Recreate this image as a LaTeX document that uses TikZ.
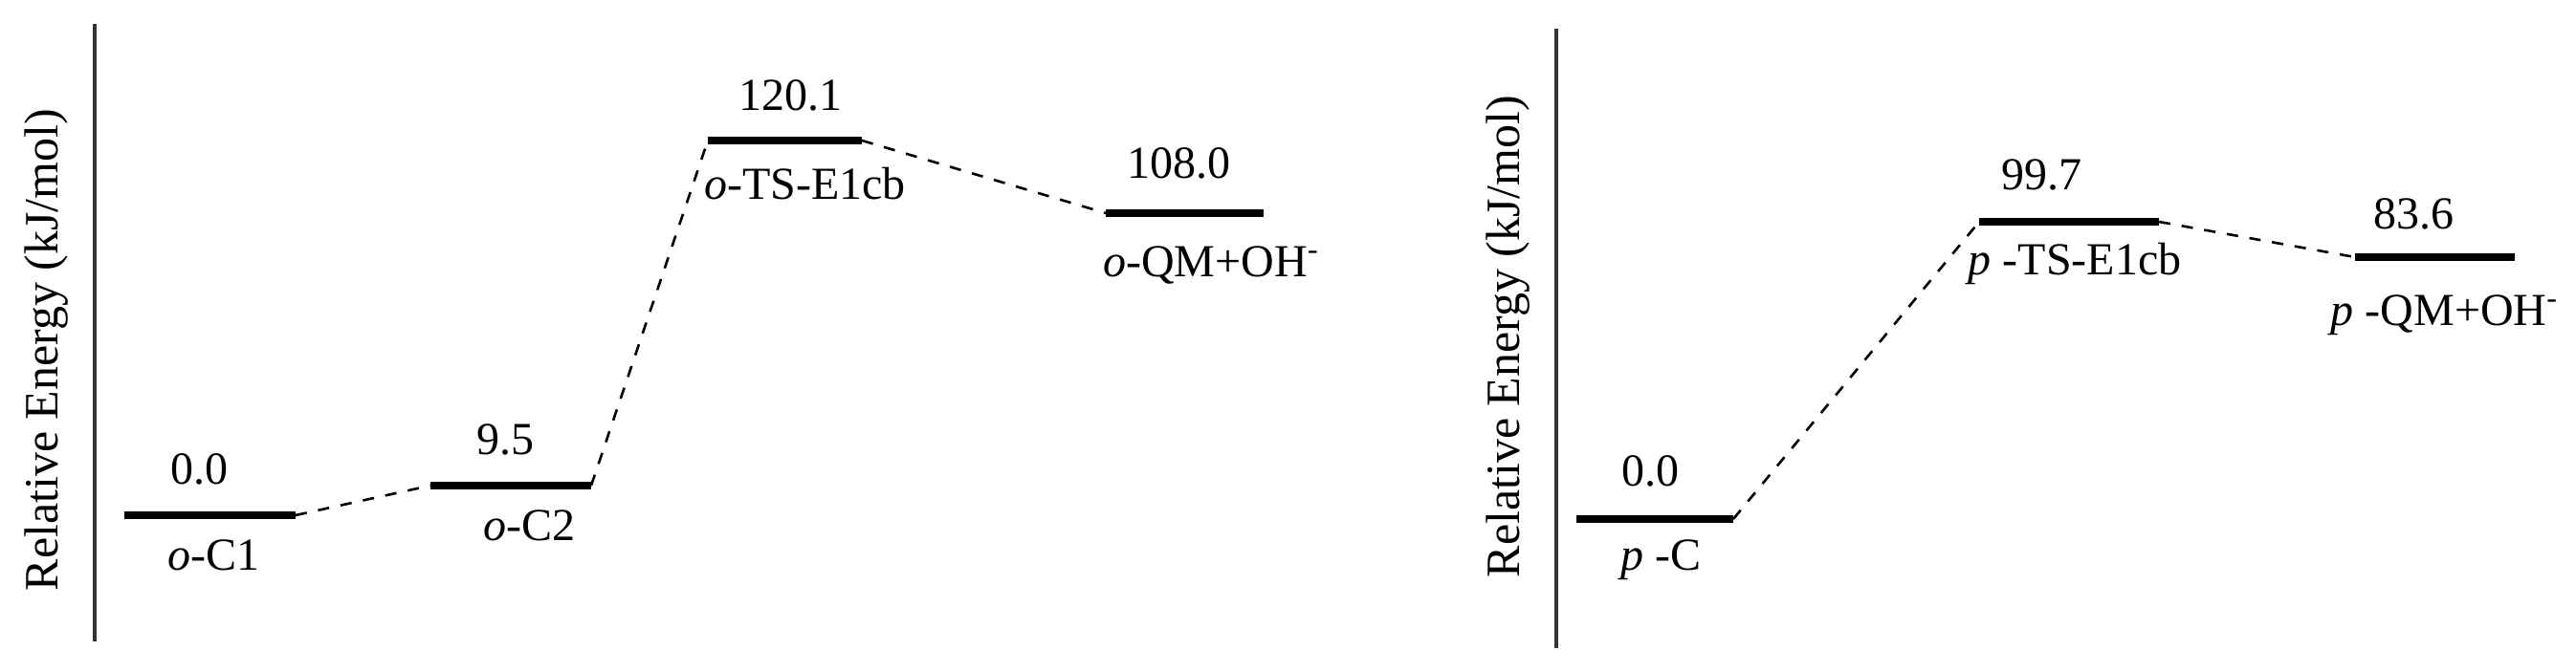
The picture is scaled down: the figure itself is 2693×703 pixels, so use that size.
\documentclass[tikz,border=0pt]{standalone}
\usepackage{fontspec}
\setmainfont{Liberation Serif}
\newfontfamily\diagfont{Liberation Serif}
\usetikzlibrary{positioning}

\begin{document}
\begin{tikzpicture}[x=0.25pt, y=-0.25pt,
LevelStyle/.style={fill=black, inner sep=0pt, outer sep=0pt,
                minimum height=1.8pt, minimum width=#1},
ValueStyle/.style={inner sep=0pt, font=\diagfont\fontsize{12}{14}\selectfont},
NameStyle/.style={inner sep=0pt, font=\diagfont\fontsize{12}{14}\selectfont},
PathStyle/.style={dash pattern=on 3pt off 3pt, line width=0.65pt},
AxisStyle/.style={line width=1pt, black!80},
AxisLabel/.style={rotate=90, inner sep=0pt, font=\diagfont\fontsize{12.5}{15}\selectfont},]
\useasboundingbox (0,0) rectangle (2693,703);

% ortho panel
\coordinate (oTop) at (99,25);
\coordinate (oBot) at (99,671);
\draw [AxisStyle] (oTop) -- (oBot);
\node [AxisLabel] (oYlab) at (49,366) {Relative Energy (kJ/mol)};

\node [LevelStyle=44.75pt] (oC1) at (219.5,539) {};
\node [LevelStyle=42pt] (oC2) at (534,508) {};
\node [LevelStyle=40.25pt] (oTS) at (820.5,147) {};
\node [LevelStyle=41.25pt] (oQM) at (1238.5,223) {};

\node [ValueStyle, above=6.75pt of oC1, xshift=-2.75pt] (oC1v) {0.0};
\node [ValueStyle, above=6.75pt of oC2, xshift=-1.5pt] (oC2v) {9.5};
\node [ValueStyle, above=6.6pt of oTS, xshift=1.5pt] (oTSv) {120.1};
\node [ValueStyle, above=7.75pt of oQM, xshift=-1.5pt] (oQMv) {108.0};

\node [NameStyle, below=5.4pt of oC1, xshift=1.1pt] (oC1n) {\textit{o}-C1};
\node [NameStyle, below=5.4pt of oC2, xshift=4.9pt] (oC2n) {\textit{o}-C2};
\node [NameStyle, below=6pt of oTS, xshift=5.25pt] (oTSn) {\textit{o}-TS-E1cb};
\node [NameStyle, below=7.5pt of oQM, xshift=7pt] (oQMn) {\textit{o}-QM+OH\textsuperscript{-}};

\draw [PathStyle] (oC1.east) -- (oC2.west);
\draw [PathStyle] (oC2.east) -- (oTS.west);
\draw [PathStyle] (oTS.east) -- (oQM.west);

% para panel
\coordinate (pTop) at (1627,30);
\coordinate (pBot) at (1627,678);
\draw [AxisStyle] (pTop) -- (pBot);
\node [AxisLabel] (pYlab) at (1577,352) {Relative Energy (kJ/mol)};

\node [LevelStyle=41pt] (pC) at (1730,543) {};
\node [LevelStyle=47pt] (pTS) at (2163,232) {};
\node [LevelStyle=41.75pt] (pQM) at (2545.5,269) {};

\node [ValueStyle, above=7.4pt of pC, xshift=-1.25pt] (pCv) {0.0};
\node [ValueStyle, above=7pt of pTS, xshift=-7.25pt] (pTSv) {99.7};
\node [ValueStyle, above=6.1pt of pQM, xshift=-5.5pt] (pQMv) {83.6};

\node [NameStyle, below=4.4pt of pC, xshift=1.5pt] (pCn) {\textit{p} -C};
\node [NameStyle, below=4.4pt of pTS, xshift=1.5pt] (pTSn) {\textit{p} -TS-E1cb};
\node [NameStyle, below=8.8pt of pQM, xshift=2.6pt] (pQMn) {\textit{p} -QM+OH\textsuperscript{-}};

\draw [PathStyle] (pC.east) -- (pTS.west);
\draw [PathStyle] (pTS.east) -- (pQM.west);
\end{tikzpicture}
\end{document}
